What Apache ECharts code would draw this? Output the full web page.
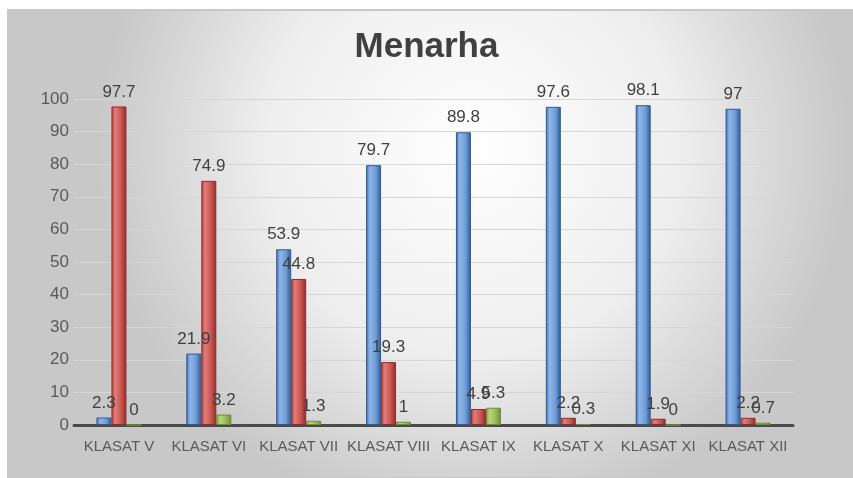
<!DOCTYPE html>
<html>
<head>
<meta charset="utf-8">
<script src="https://cdn.jsdelivr.net/npm/echarts@6/dist/echarts.min.js"></script>
<style>
html,body{margin:0;padding:0;background:#fff;}
#c{width:853px;height:478px;}
</style>
</head>
<body>
<div id="c"></div>
<script>
var categories = ['KLASAT V','KLASAT VI','KLASAT VII','KLASAT VIII','KLASAT IX','KLASAT X','KLASAT XI','KLASAT XII'];
var seriesBlue = [2.3, 21.9, 53.9, 79.7, 89.8, 97.6, 98.1, 97];
var seriesRed = [97.7, 74.9, 44.8, 19.3, 4.9, 2.2, 1.9, 2.2];
var seriesGreen = [0, 3.2, 1.3, 1, 5.3, 0.3, 0, 0.7];
var yTicks = [0,10,20,30,40,50,60,70,80,90,100];

var chart = echarts.init(document.getElementById('c'), null, {renderer:'canvas'});
function grad(c0,c1,c2,c3){
  return new echarts.graphic.LinearGradient(0,0,1,0,[
    {offset:0,color:c0},{offset:0.25,color:c1},{offset:0.65,color:c2},{offset:1,color:c3}
  ]);
}
var labelStyle = {show:true, position:'top', distance:6, color:'#404040', fontSize:17, fontFamily:'Liberation Sans'};
function mk(name, data, fill, border){
  return {
    name:name, type:'bar', data:data, barWidth:15, barGap:'0%',
    itemStyle:{color:fill, borderColor:border, borderWidth:1},
    label:labelStyle
  };
}
chart.setOption({
  backgroundColor:'#ffffff',
  animation:false,
  graphic:[{
    type:'rect', z:-10, silent:true,
    shape:{x:8,y:10,width:845,height:468},
    style:{
      fill:new echarts.graphic.RadialGradient(0.55,0.3,0.8,[
        {offset:0,color:'#ffffff'},{offset:0.55,color:'#eeeeee'},{offset:1,color:'#c8c8c8'}
      ]),
      stroke:'#c8c8c8', lineWidth:2
    }
  }],
  title:{
    text:'Menarha', left:'center', top:25,
    textStyle:{fontSize:35, fontWeight:'bold', color:'#404040', fontFamily:'Liberation Sans'}
  },
  grid:{left:74, right:60, top:99, bottom:53, containLabel:false},
  xAxis:{
    type:'category', data:categories,
    axisLine:{show:true, lineStyle:{color:'#4a4a4a', width:3}},
    axisTick:{show:false},
    axisLabel:{color:'#595959', fontSize:15, margin:14, fontFamily:'Liberation Sans', interval:0}
  },
  yAxis:{
    type:'value', min:yTicks[0], max:yTicks[yTicks.length-1], interval:10,
    axisLine:{show:false}, axisTick:{show:false},
    axisLabel:{color:'#595959', fontSize:17, margin:5, fontFamily:'Liberation Sans'},
    splitLine:{lineStyle:{color:'#d6d6d6', width:1}}
  },
  series:[
    mk('Blue', seriesBlue, grad('#3b6cab','#8fb6e8','#6f9cd8','#2c5a94'), '#2f5b93'),
    mk('Red', seriesRed, grad('#b03c39','#e07e7b','#c9544f','#8e2b28'), '#8e2e2b'),
    mk('Green', seriesGreen, grad('#7f9e3e','#b8d67a','#9bbb59','#6d8a34'), '#6f8c37')
  ]
});
</script>
</body>
</html>
